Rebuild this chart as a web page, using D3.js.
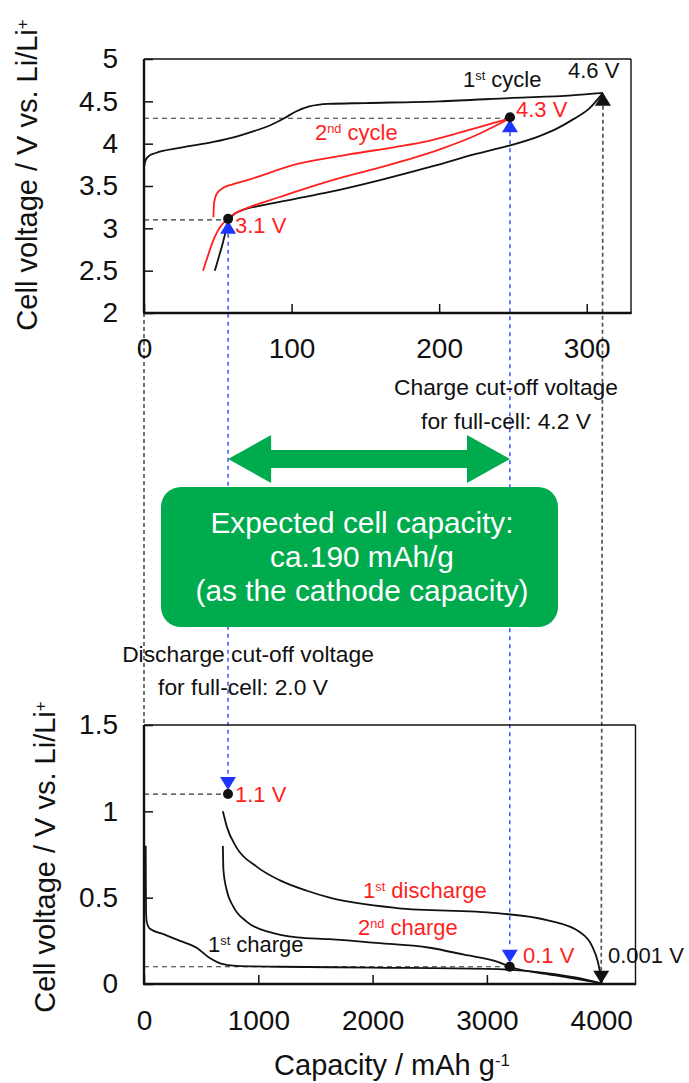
<!DOCTYPE html>
<html>
<head>
<meta charset="utf-8">
<script src="https://cdn.jsdelivr.net/npm/d3@7"></script>
<style>
  body { margin: 0; background: #fff; }
  text { font-family: "Liberation Sans", Arial, Helvetica, sans-serif; }
</style>
</head>
<body>
<svg id="chart" width="689" height="1083"></svg>
<script>
// ---- Cathode half-cell (capacity mAh/g, voltage V vs Li/Li+) ----
const cathodeCharge1 = [[0,3.72],[1,3.8],[3,3.85],[8,3.89],[24,3.95],[47,4.02],[62,4.08],[75,4.15],[86,4.22],[95,4.3],[103,4.38],[112,4.44],[125,4.47],[150,4.48],[200,4.5],[250,4.54],[290,4.57],[311,4.6]];
const cathodeDischarge1 = [[48,2.5],[50,2.62],[53,2.8],[56,3.0],[60,3.15],[66,3.21],[80,3.27],[100,3.34],[126,3.43],[160,3.57],[197,3.74],[223,3.87],[246,3.97],[268,4.09],[280,4.18],[291,4.29],[302,4.42],[311,4.6]];
const cathodeCharge2 = [[47,3.13],[47.5,3.3],[49,3.4],[53,3.47],[60,3.52],[70,3.57],[104,3.76],[138,3.87],[170,3.96],[190,4.02],[210,4.11],[230,4.21],[248,4.3]];
const cathodeDischarge2 = [[40,2.5],[43,2.66],[47,2.86],[51,3.0],[56,3.1],[62,3.18],[70,3.24],[92,3.37],[126,3.56],[160,3.72],[200,3.93],[225,4.1],[248,4.3]];

// ---- Anode half-cell ----
const anodeCharge1 = [[15,0.8],[16,0.6],[18,0.42],[24,0.36],[52,0.32],[165,0.29],[315,0.25],[460,0.21],[575,0.15],[665,0.12],[810,0.105],[1200,0.1],[2000,0.095],[3000,0.088],[3500,0.065],[3800,0.035],[4000,0.002]];
const anodeDischarge1 = [[690,1.0],[725,0.91],[810,0.79],[985,0.68],[1190,0.6],[1425,0.54],[1625,0.5],[2213,0.44],[3088,0.41],[3525,0.37],[3815,0.3],[3920,0.22],[3970,0.13],[3995,0.05],[4005,0.01]];
const anodeCharge2 = [[690,0.8],[695,0.66],[725,0.54],[780,0.45],[900,0.36],[1100,0.3],[1340,0.27],[1625,0.26],[2000,0.24],[2500,0.21],[2800,0.17],[3088,0.13],[3200,0.1],[3600,0.05],[4000,0.005]];

// cut-off points used for the full cell
const cathodeCutCap = [57, 248];
const cathodeCutV = [3.1, 4.3];
const anodeCutCap = [735, 3200];
const anodeCutV = [1.1, 0.1];
const cathodeLimit = [311, 4.6];
const anodeLimit = [4000, 0.001];

// ticks
const topXMajor = [0, 100, 200, 300];
const topXMinor = d3.range(0, 331, 10);
const topYMajor = [2, 2.5, 3, 3.5, 4, 4.5, 5];
const topYMinor = d3.range(20, 51, 1).map(d => d / 10);
const botXMajor = [0, 1000, 2000, 3000, 4000];
const botXMinor = d3.range(0, 4301, 200);
const botYMajor = [0, 0.5, 1, 1.5];
const botYMinor = d3.range(0, 16, 1).map(d => d / 10);

const RED = "#ff1f1f", BLUE = "#1d35ff", GREEN = "#00ab4e", INK = "#111";

const svg = d3.select("#chart");

const xTop = d3.scaleLinear().domain([0, 330]).range([144, 631]);
const yTop = d3.scaleLinear().domain([2, 5]).range([313, 59]);
const xBot = d3.scaleLinear().domain([0, 4300]).range([144, 635.5]);
const yBot = d3.scaleLinear().domain([0, 1.5]).range([984, 725]);

function axes(x, y, xMaj, xMin, yMaj, yMin, xPad) {
  const [x0, x1] = x.range(), [y0, y1] = y.range();
  const g = svg.append("g");
  const bx = g.append("g").attr("transform", `translate(0,${y0})`);
  bx.call(d3.axisBottom(x).tickValues(xMin).tickSize(-5).tickFormat(""));
  bx.call(d3.axisBottom(x).tickValues(xMaj).tickSize(-9).tickPadding(xPad).tickFormat(d => String(d)));
  const ly = g.append("g").attr("transform", `translate(${x0},0)`);
  ly.call(d3.axisLeft(y).tickValues(yMin).tickSize(-5).tickFormat(""));
  ly.call(d3.axisLeft(y).tickValues(yMaj).tickSize(-9).tickPadding(26).tickFormat(d => String(d)));
  g.selectAll(".domain").remove();
  g.selectAll(".tick line").attr("stroke", INK).attr("stroke-width", 1.5);
  g.selectAll(".tick text").attr("font-size", 28).attr("fill", INK)
    .attr("font-family", '"Liberation Sans", Arial, sans-serif');
  // frame
  g.append("line").attr("x1", x0).attr("x2", x1).attr("y1", y1).attr("y2", y1).attr("stroke", INK).attr("stroke-width", 1.4);
  g.append("line").attr("x1", x1).attr("x2", x1).attr("y1", y1).attr("y2", y0).attr("stroke", INK).attr("stroke-width", 1.4);
  g.append("line").attr("x1", x0 - 1).attr("x2", x1 + 0.7).attr("y1", y0).attr("y2", y0).attr("stroke", INK).attr("stroke-width", 2.4);
  g.append("line").attr("x1", x0).attr("x2", x0).attr("y1", y1).attr("y2", y0).attr("stroke", INK).attr("stroke-width", 2.4);
}

function curve(data, x, y, color) {
  const line = d3.line().x(d => x(d[0])).y(d => y(d[1])).curve(d3.curveMonotoneX);
  svg.append("path").datum(data).attr("d", line).attr("fill", "none")
    .attr("stroke", color).attr("stroke-width", 1.8).attr("stroke-linejoin", "round");
}

function dash(x1, y1, x2, y2, color, pattern, w) {
  svg.append("line").attr("x1", x1).attr("y1", y1).attr("x2", x2).attr("y2", y2)
    .attr("stroke", color).attr("stroke-dasharray", pattern).attr("stroke-width", w);
}

// triangle with its apex at (px, py); dir = 1 points up, -1 points down
function tri(px, py, dir, color) {
  const w = 8, h = 13;
  svg.append("path")
    .attr("d", `M${px},${py} L${px - w},${py + dir * h} L${px + w},${py + dir * h} Z`)
    .attr("fill", color);
}

function label(x, y, parts, color, size, anchor) {
  const t = svg.append("text").attr("x", x).attr("y", y).attr("fill", color)
    .attr("font-size", size).attr("text-anchor", anchor || "start");
  parts.forEach(p => {
    if (typeof p === "string") t.append("tspan").text(p);
    else t.append("tspan").attr("baseline-shift", "super").attr("font-size", size * 0.58).text(p.sup);
  });
  return t;
}

// ---- guide lines (drawn first, under the curves) ----
// capacity = 0 for both electrodes
dash(xTop(0), yTop(2), xBot(0), yBot(1.5), "#444", "4,3", 1.5);
// limits of the half cells
dash(xTop(cathodeLimit[0]), yTop(cathodeLimit[1]) + 13, xBot(anodeLimit[0]), yBot(anodeLimit[1]), "#555", "4,3", 1.7);
// full-cell cut-offs
dash(xTop(cathodeCutCap[0]), yTop(cathodeCutV[0]) + 14, xBot(anodeCutCap[0]), yBot(anodeCutV[0]) - 13, BLUE, "4,4", 1.3);
dash(xTop(cathodeCutCap[1]), yTop(cathodeCutV[1]) + 14, xBot(anodeCutCap[1]), yBot(anodeCutV[1]) - 19, BLUE, "4,4", 1.3);
// horizontal read-outs
cathodeCutCap.forEach((c, i) => dash(xTop(0), yTop(cathodeCutV[i]), xTop(c), yTop(cathodeCutV[i]), "#333", "5,4", 1.2));
anodeCutCap.forEach((c, i) => dash(xBot(0), yBot(anodeCutV[i]), xBot(c), yBot(anodeCutV[i]), "#333", "5,4", 1.2));

// ---- axes ----
axes(xTop, yTop, topXMajor, topXMinor, topYMajor, topYMinor, 25);
axes(xBot, yBot, botXMajor, botXMinor, botYMajor, botYMinor, 26);

// ---- curves ----
curve(cathodeCharge1, xTop, yTop, INK);
curve(cathodeDischarge1, xTop, yTop, INK);
curve(cathodeCharge2, xTop, yTop, RED);
curve(cathodeDischarge2, xTop, yTop, RED);
curve(anodeCharge1, xBot, yBot, INK);
curve(anodeDischarge1, xBot, yBot, INK);
curve(anodeCharge2, xBot, yBot, INK);

// ---- markers ----
cathodeCutCap.forEach((c, i) => {
  const px = xTop(c), py = yTop(cathodeCutV[i]);
  tri(px, py + 1, 1, BLUE);
  svg.append("circle").attr("cx", px).attr("cy", py - 1).attr("r", 5).attr("fill", INK);
});
anodeCutCap.forEach((c, i) => {
  const px = xBot(c), py = yBot(anodeCutV[i]);
  tri(px, py - 4, -1, BLUE);
  svg.append("circle").attr("cx", px).attr("cy", py).attr("r", 5).attr("fill", INK);
});
tri(xTop(cathodeLimit[0]), yTop(cathodeLimit[1]), 1, INK);
tri(xBot(anodeLimit[0]), yBot(anodeLimit[1]), -1, INK);

// ---- value labels ----
const fmtV = v => `${v} V`;
label(516, 117, [fmtV(cathodeCutV[1])], RED, 22);
label(235, 233, [fmtV(cathodeCutV[0])], RED, 22);
label(568, 78, [fmtV(cathodeLimit[1])], INK, 22);
label(235, 802, [fmtV(anodeCutV[0])], RED, 22);
label(523, 963, [fmtV(anodeCutV[1])], RED, 22);
label(608, 963, [fmtV(anodeLimit[1])], INK, 22);

// ---- curve names ----
label(463, 87, ["1", {sup: "st"}, " cycle"], INK, 22);
label(315, 140, ["2", {sup: "nd"}, " cycle"], RED, 22);
label(363, 898, ["1", {sup: "st"}, " discharge"], RED, 22);
label(358, 935, ["2", {sup: "nd"}, " charge"], RED, 22);
label(208, 952, ["1", {sup: "st"}, " charge"], INK, 22);

// ---- cut-off notes ----
label(506, 395, ["Charge cut-off voltage"], INK, 22.8, "middle");
label(506, 429, ["for full-cell: 4.2 V"], INK, 22.8, "middle");
label(248, 662, ["Discharge cut-off voltage"], INK, 22.8, "middle");
label(243, 695, ["for full-cell: 2.0 V"], INK, 22.8, "middle");

// ---- capacity window arrow and box ----
const ax1 = xTop(cathodeCutCap[0]), ax2 = xTop(cathodeCutCap[1]), ay = 459;
const hw = 24, sw = 9, hl = 43;
svg.append("path").attr("fill", GREEN).attr("d",
  `M${ax1},${ay} L${ax1 + hl},${ay - hw} L${ax1 + hl},${ay - sw} L${ax2 - hl},${ay - sw} L${ax2 - hl},${ay - hw}` +
  ` L${ax2},${ay} L${ax2 - hl},${ay + hw} L${ax2 - hl},${ay + sw} L${ax1 + hl},${ay + sw} L${ax1 + hl},${ay + hw} Z`);
svg.append("rect").attr("x", 161).attr("y", 487).attr("width", 397).attr("height", 140)
  .attr("rx", 20).attr("fill", GREEN);
const boxLines = ["Expected cell capacity:", "ca.190 mAh/g", "(as the cathode capacity)"];
boxLines.forEach((s, i) => label(362, 533 + i * 34, [s], "#fff", 29.8, "middle"));

// ---- axis titles ----
function yTitle(x, y) {
  label(0, 0, ["Cell voltage / V vs. Li/Li", {sup: "+"}], INK, 29, "middle")
    .attr("transform", `translate(${x},${y}) rotate(-90)`);
}
yTitle(37, 175);
yTitle(55, 857);
label(392, 1075, ["Capacity / mAh g", {sup: "-1"}], INK, 29, "middle");
</script>
</body>
</html>
